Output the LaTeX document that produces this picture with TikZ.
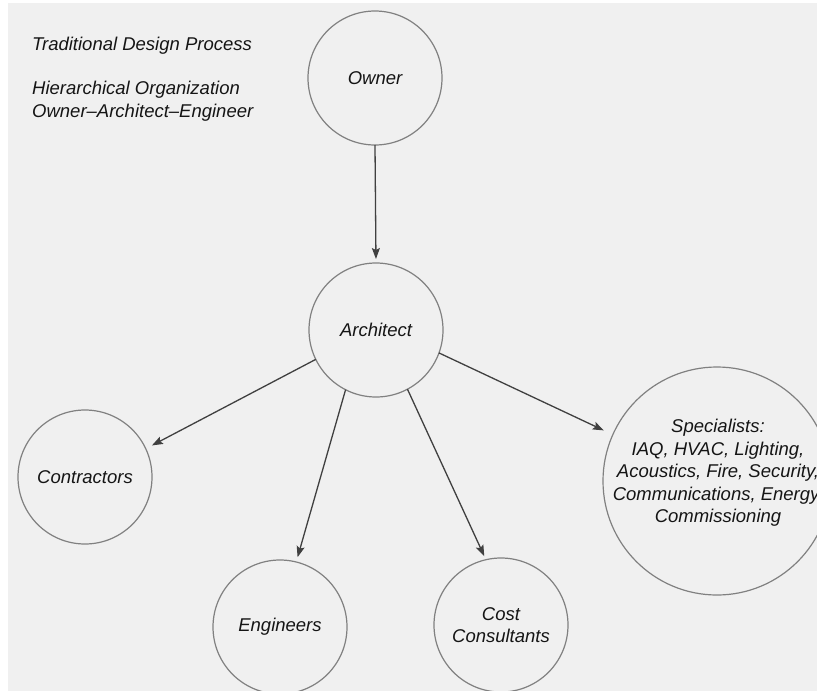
\documentclass[tikz,border=0pt]{standalone}
\usepackage{fontspec}
\setmainfont{Liberation Sans}
\usetikzlibrary{arrows.meta}
\definecolor{paper}{HTML}{F0F0F0}
\definecolor{ring}{HTML}{808080}
\definecolor{wire}{HTML}{404040}
\definecolor{ink}{HTML}{151515}
\begin{document}
\begin{tikzpicture}[x=1pt,y=-1pt,
  every node/.style={text=ink,font=\fontsize{18.5}{22.5}\selectfont\itshape},
  actor/.style={circle,draw=ring,line width=1.2pt,inner sep=0pt,outer sep=0pt,align=center},
  small/.style={actor,minimum size=134pt},
  big/.style={actor,minimum size=228pt},
  link/.style={draw=wire,line width=1.3pt,-{Stealth[length=11pt,width=8pt,inset=2pt]}},
  caption/.style={anchor=base west,inner sep=0pt}]
  % page and background
  \useasboundingbox (0,0) rectangle (817,691);
  \fill[white] (0,0) rectangle (817,691);
  \fill[paper] (8,3) rectangle (817,691);
  \begin{scope}
    \clip (8,3) rectangle (817,691);

    % headings
    \node[caption] (title) at (32,50) {Traditional Design Process};
    \node[caption] (org1) at (32,94) {Hierarchical Organization};
    \node[caption] (org2) at (32,117) {Owner–Architect–Engineer};

    % parties
    \node[small] (owner) at (375,78) {Owner};
    \node[small] (arch) at (376,330) {Architect};
    \node[small] (contr) at (85,477) {Contractors};
    \node[small] (eng) at (280,627) {Engineers};
    \node[small] (cost) at (501,625) {Cost\\Consultants};
    \node[big] (spec) at (717,481) {};
    \node[align=center,inner sep=0pt] (specText) at (718,473) {Specialists:\\IAQ, HVAC, Lighting,\\Acoustics, Fire, Security,\\Communications, Energy,\\Commissioning};

    % lines of authority
    \draw[link,shorten >=4pt] (owner.south) -- (arch.north);
    \draw[link,shorten >=7pt] (arch.206) -- (contr.25);
    \draw[link,shorten >=5pt] (arch.243) -- (eng.76);
    \draw[link,shorten >=4pt] (arch.298) -- (cost.103);
    \draw[link,shorten >=10pt] (arch.340) -- (spec.156);
  \end{scope}
\end{tikzpicture}
\end{document}
